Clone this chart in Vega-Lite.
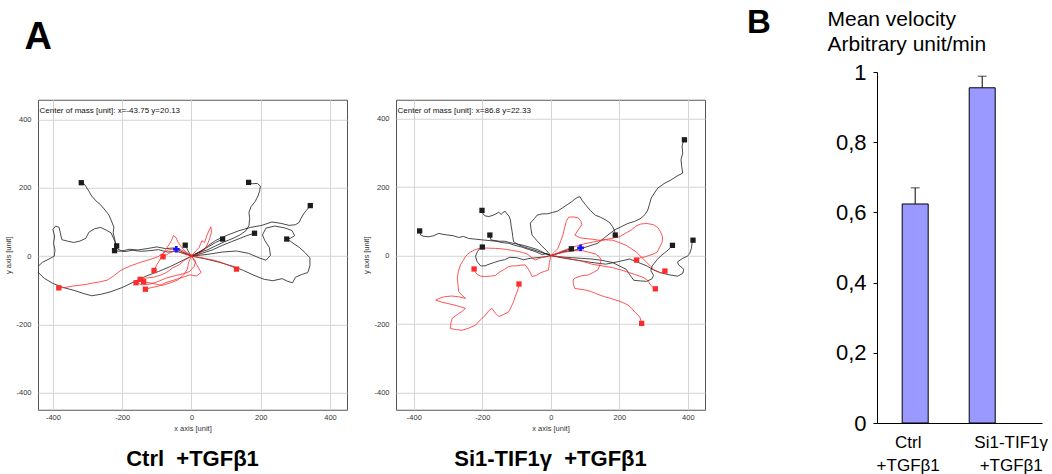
{
"$schema": "https://vega.github.io/schema/vega-lite/v6.json",
"padding": {"left": 4, "top": 7, "right": 0, "bottom": 0},
"background": "white",
"config": {"font": "Liberation Sans", "view": {"stroke": null}, "title": {"font": "Liberation Sans"}, "axis": {"labelFont": "Liberation Sans", "titleFont": "Liberation Sans"}},
"datasets": {
"ctrlTracks": [
{"t":"b1","d":"up","x":0,"y":0},{"t":"b1","d":"up","x":-20,"y":8},{"t":"b1","d":"up","x":-45,"y":14},{"t":"b1","d":"up","x":-70,"y":12},{"t":"b1","d":"up","x":-95,"y":19},{"t":"b1","d":"up","x":-120,"y":16},{"t":"b1","d":"up","x":-145,"y":14},{"t":"b1","d":"up","x":-170,"y":17},{"t":"b1","d":"up","x":-195,"y":13},{"t":"b1","d":"up","x":-212,"y":20},{"t":"b1","d":"up","x":-219,"y":35},{"t":"b1","d":"up","x":-222,"y":52},{"t":"b1","d":"up","x":-226,"y":68},{"t":"b1","d":"up","x":-224,"y":85},{"t":"b1","d":"up","x":-231,"y":103},{"t":"b1","d":"up","x":-238,"y":120},{"t":"b1","d":"up","x":-252,"y":138},{"t":"b1","d":"up","x":-262,"y":150},{"t":"b1","d":"up","x":-276,"y":162},{"t":"b1","d":"up","x":-288,"y":176},{"t":"b1","d":"up","x":-296,"y":190},{"t":"b1","d":"up","x":-304,"y":203},{"t":"b1","d":"up","x":-310,"y":212},{"t":"b1","d":"up","x":-318,"y":215},
{"t":"b2","d":"up","x":0,"y":0},{"t":"b2","d":"up","x":-25,"y":12},{"t":"b2","d":"up","x":-50,"y":24},{"t":"b2","d":"up","x":-75,"y":22},{"t":"b2","d":"up","x":-100,"y":27},{"t":"b2","d":"up","x":-128,"y":22},{"t":"b2","d":"up","x":-155,"y":18},{"t":"b2","d":"up","x":-180,"y":20},{"t":"b2","d":"up","x":-205,"y":14},{"t":"b2","d":"up","x":-222,"y":16},
{"t":"b3","d":"up","x":0,"y":0},{"t":"b3","d":"up","x":-30,"y":-15},{"t":"b3","d":"up","x":-60,"y":-30},{"t":"b3","d":"up","x":-95,"y":-45},{"t":"b3","d":"up","x":-130,"y":-58},{"t":"b3","d":"up","x":-165,"y":-75},{"t":"b3","d":"up","x":-200,"y":-92},{"t":"b3","d":"up","x":-235,"y":-105},{"t":"b3","d":"up","x":-262,"y":-112},{"t":"b3","d":"up","x":-288,"y":-116},{"t":"b3","d":"up","x":-310,"y":-110},{"t":"b3","d":"up","x":-340,"y":-100},{"t":"b3","d":"up","x":-370,"y":-92},{"t":"b3","d":"up","x":-400,"y":-80},{"t":"b3","d":"up","x":-425,"y":-65},{"t":"b3","d":"up","x":-442,"y":-48},{"t":"b3","d":"up","x":-445,"y":-32},{"t":"b3","d":"up","x":-430,"y":-18},{"t":"b3","d":"up","x":-410,"y":-8},{"t":"b3","d":"up","x":-396,"y":0},{"t":"b3","d":"up","x":-394,"y":18},{"t":"b3","d":"up","x":-398,"y":38},{"t":"b3","d":"up","x":-395,"y":58},{"t":"b3","d":"up","x":-400,"y":78},{"t":"b3","d":"up","x":-392,"y":88},{"t":"b3","d":"up","x":-382,"y":84},{"t":"b3","d":"up","x":-378,"y":65},{"t":"b3","d":"up","x":-374,"y":48},{"t":"b3","d":"up","x":-358,"y":44},{"t":"b3","d":"up","x":-340,"y":40},{"t":"b3","d":"up","x":-322,"y":44},{"t":"b3","d":"up","x":-305,"y":52},{"t":"b3","d":"up","x":-296,"y":70},{"t":"b3","d":"up","x":-280,"y":80},{"t":"b3","d":"up","x":-262,"y":84},{"t":"b3","d":"up","x":-246,"y":76},{"t":"b3","d":"up","x":-232,"y":68},{"t":"b3","d":"up","x":-224,"y":50},{"t":"b3","d":"up","x":-216,"y":30},
{"t":"b4","d":"up","x":0,"y":0},{"t":"b4","d":"up","x":20,"y":10},{"t":"b4","d":"up","x":45,"y":18},{"t":"b4","d":"up","x":70,"y":30},{"t":"b4","d":"up","x":95,"y":42},{"t":"b4","d":"up","x":120,"y":52},{"t":"b4","d":"up","x":140,"y":62},{"t":"b4","d":"up","x":158,"y":75},{"t":"b4","d":"up","x":166,"y":90},{"t":"b4","d":"up","x":168,"y":110},{"t":"b4","d":"up","x":166,"y":128},{"t":"b4","d":"up","x":172,"y":145},{"t":"b4","d":"up","x":184,"y":160},{"t":"b4","d":"up","x":192,"y":176},{"t":"b4","d":"up","x":197,"y":192},{"t":"b4","d":"up","x":199,"y":205},{"t":"b4","d":"up","x":190,"y":213},{"t":"b4","d":"up","x":176,"y":212},{"t":"b4","d":"up","x":165,"y":216},
{"t":"b5","d":"up","x":0,"y":0},{"t":"b5","d":"up","x":25,"y":12},{"t":"b5","d":"up","x":50,"y":32},{"t":"b5","d":"up","x":70,"y":46},{"t":"b5","d":"up","x":100,"y":60},{"t":"b5","d":"up","x":136,"y":74},{"t":"b5","d":"up","x":170,"y":84},{"t":"b5","d":"up","x":203,"y":90},{"t":"b5","d":"up","x":232,"y":100},{"t":"b5","d":"up","x":258,"y":96},{"t":"b5","d":"up","x":282,"y":90},{"t":"b5","d":"up","x":300,"y":92},{"t":"b5","d":"up","x":310,"y":98},{"t":"b5","d":"up","x":316,"y":110},{"t":"b5","d":"up","x":324,"y":124},{"t":"b5","d":"up","x":332,"y":134},{"t":"b5","d":"up","x":343,"y":148},
{"t":"b6","d":"up","x":0,"y":0},{"t":"b6","d":"up","x":30,"y":8},{"t":"b6","d":"up","x":60,"y":18},{"t":"b6","d":"up","x":90,"y":32},{"t":"b6","d":"up","x":115,"y":42},{"t":"b6","d":"up","x":140,"y":52},{"t":"b6","d":"up","x":160,"y":60},{"t":"b6","d":"up","x":182,"y":67},
{"t":"b7","d":"up","x":0,"y":0},{"t":"b7","d":"up","x":25,"y":14},{"t":"b7","d":"up","x":50,"y":28},{"t":"b7","d":"up","x":70,"y":40},{"t":"b7","d":"up","x":90,"y":50},
{"t":"b8","d":"up","x":0,"y":0},{"t":"b8","d":"up","x":40,"y":-8},{"t":"b8","d":"up","x":80,"y":-18},{"t":"b8","d":"up","x":120,"y":-30},{"t":"b8","d":"up","x":150,"y":-42},{"t":"b8","d":"up","x":180,"y":-56},{"t":"b8","d":"up","x":210,"y":-68},{"t":"b8","d":"up","x":235,"y":-72},{"t":"b8","d":"up","x":262,"y":-66},{"t":"b8","d":"up","x":278,"y":-74},{"t":"b8","d":"up","x":292,"y":-78},{"t":"b8","d":"up","x":300,"y":-62},{"t":"b8","d":"up","x":318,"y":-54},{"t":"b8","d":"up","x":336,"y":-48},{"t":"b8","d":"up","x":342,"y":-28},{"t":"b8","d":"up","x":342,"y":-5},{"t":"b8","d":"up","x":328,"y":10},{"t":"b8","d":"up","x":312,"y":25},{"t":"b8","d":"up","x":296,"y":36},{"t":"b8","d":"up","x":285,"y":44},{"t":"b8","d":"up","x":275,"y":50},
{"t":"b9","d":"up","x":0,"y":0},{"t":"b9","d":"up","x":45,"y":5},{"t":"b9","d":"up","x":90,"y":12},{"t":"b9","d":"up","x":130,"y":15},{"t":"b9","d":"up","x":165,"y":8},{"t":"b9","d":"up","x":195,"y":-5},{"t":"b9","d":"up","x":215,"y":-12},{"t":"b9","d":"up","x":228,"y":2},{"t":"b9","d":"up","x":225,"y":25},{"t":"b9","d":"up","x":212,"y":45},{"t":"b9","d":"up","x":205,"y":62},{"t":"b9","d":"up","x":215,"y":82},{"t":"b9","d":"up","x":240,"y":88},{"t":"b9","d":"up","x":268,"y":83},{"t":"b9","d":"up","x":290,"y":75},{"t":"b9","d":"up","x":298,"y":60},{"t":"b9","d":"up","x":285,"y":52},{"t":"b9","d":"up","x":275,"y":50},
{"t":"b10","d":"up","x":0,"y":0},{"t":"b10","d":"up","x":-8,"y":12},{"t":"b10","d":"up","x":-18,"y":32},
{"t":"r1","d":"down","x":0,"y":0},{"t":"r1","d":"down","x":-12,"y":8},{"t":"r1","d":"down","x":-25,"y":16},{"t":"r1","d":"down","x":-39,"y":22},{"t":"r1","d":"down","x":-55,"y":20},{"t":"r1","d":"down","x":-68,"y":18},{"t":"r1","d":"down","x":-82,"y":8},{"t":"r1","d":"down","x":-97,"y":-2},{"t":"r1","d":"down","x":-120,"y":-10},{"t":"r1","d":"down","x":-140,"y":-16},{"t":"r1","d":"down","x":-155,"y":-21},{"t":"r1","d":"down","x":-180,"y":-30},{"t":"r1","d":"down","x":-203,"y":-41},{"t":"r1","d":"down","x":-222,"y":-56},{"t":"r1","d":"down","x":-242,"y":-70},{"t":"r1","d":"down","x":-262,"y":-75},{"t":"r1","d":"down","x":-280,"y":-78},{"t":"r1","d":"down","x":-300,"y":-82},{"t":"r1","d":"down","x":-319,"y":-85},{"t":"r1","d":"down","x":-345,"y":-88},{"t":"r1","d":"down","x":-365,"y":-92},{"t":"r1","d":"down","x":-383,"y":-93},
{"t":"r2","d":"down","x":0,"y":0},{"t":"r2","d":"down","x":-15,"y":12},{"t":"r2","d":"down","x":-28,"y":25},{"t":"r2","d":"down","x":-38,"y":40},{"t":"r2","d":"down","x":-45,"y":55},{"t":"r2","d":"down","x":-52,"y":60},{"t":"r2","d":"down","x":-58,"y":45},{"t":"r2","d":"down","x":-66,"y":32},{"t":"r2","d":"down","x":-75,"y":18},{"t":"r2","d":"down","x":-85,"y":2},{"t":"r2","d":"down","x":-92,"y":-12},{"t":"r2","d":"down","x":-100,"y":-25},{"t":"r2","d":"down","x":-108,"y":-42},
{"t":"r3","d":"down","x":0,"y":0},{"t":"r3","d":"down","x":10,"y":12},{"t":"r3","d":"down","x":22,"y":25},{"t":"r3","d":"down","x":30,"y":45},{"t":"r3","d":"down","x":38,"y":40},{"t":"r3","d":"down","x":45,"y":62},{"t":"r3","d":"down","x":52,"y":78},{"t":"r3","d":"down","x":56,"y":86},{"t":"r3","d":"down","x":58,"y":70},{"t":"r3","d":"down","x":52,"y":50},{"t":"r3","d":"down","x":45,"y":32},{"t":"r3","d":"down","x":35,"y":15},{"t":"r3","d":"down","x":20,"y":6},{"t":"r3","d":"down","x":5,"y":3},{"t":"r3","d":"down","x":-15,"y":4},{"t":"r3","d":"down","x":-30,"y":10},{"t":"r3","d":"down","x":-45,"y":16},{"t":"r3","d":"down","x":-62,"y":10},{"t":"r3","d":"down","x":-82,"y":-2},
{"t":"r4","d":"down","x":0,"y":0},{"t":"r4","d":"down","x":12,"y":-15},{"t":"r4","d":"down","x":8,"y":-30},{"t":"r4","d":"down","x":-5,"y":-45},{"t":"r4","d":"down","x":-25,"y":-52},{"t":"r4","d":"down","x":-50,"y":-58},{"t":"r4","d":"down","x":-75,"y":-65},{"t":"r4","d":"down","x":-100,"y":-76},{"t":"r4","d":"down","x":-120,"y":-82},{"t":"r4","d":"down","x":-142,"y":-84},{"t":"r4","d":"down","x":-160,"y":-78},
{"t":"r5","d":"down","x":0,"y":0},{"t":"r5","d":"down","x":-20,"y":-12},{"t":"r5","d":"down","x":-35,"y":-25},{"t":"r5","d":"down","x":-55,"y":-35},{"t":"r5","d":"down","x":-72,"y":-48},{"t":"r5","d":"down","x":-90,"y":-56},{"t":"r5","d":"down","x":-110,"y":-62},{"t":"r5","d":"down","x":-130,"y":-64},{"t":"r5","d":"down","x":-148,"y":-68},
{"t":"r6","d":"down","x":0,"y":0},{"t":"r6","d":"down","x":-8,"y":-18},{"t":"r6","d":"down","x":-12,"y":-38},{"t":"r6","d":"down","x":-22,"y":-55},{"t":"r6","d":"down","x":-40,"y":-70},{"t":"r6","d":"down","x":-60,"y":-78},{"t":"r6","d":"down","x":-85,"y":-86},{"t":"r6","d":"down","x":-112,"y":-80},{"t":"r6","d":"down","x":-138,"y":-75},
{"t":"r7","d":"down","x":0,"y":0},{"t":"r7","d":"down","x":15,"y":-25},{"t":"r7","d":"down","x":28,"y":-48},{"t":"r7","d":"down","x":15,"y":-58},{"t":"r7","d":"down","x":-5,"y":-55},{"t":"r7","d":"down","x":-25,"y":-62},{"t":"r7","d":"down","x":-50,"y":-70},{"t":"r7","d":"down","x":-75,"y":-78},{"t":"r7","d":"down","x":-95,"y":-88},{"t":"r7","d":"down","x":-115,"y":-92},{"t":"r7","d":"down","x":-133,"y":-97},
{"t":"r8","d":"down","x":0,"y":0},{"t":"r8","d":"down","x":20,"y":-3},{"t":"r8","d":"down","x":45,"y":-8},{"t":"r8","d":"down","x":65,"y":-12},{"t":"r8","d":"down","x":85,"y":-18},{"t":"r8","d":"down","x":105,"y":-26},{"t":"r8","d":"down","x":120,"y":-32},{"t":"r8","d":"down","x":130,"y":-38}
],
"ctrlEnds": [
{"d":"up","x":-318,"y":215},{"d":"up","x":-222,"y":16},{"d":"up","x":-216,"y":30},{"d":"up","x":165,"y":216},{"d":"up","x":343,"y":148},{"d":"up","x":182,"y":67},{"d":"up","x":90,"y":50},{"d":"up","x":275,"y":50},{"d":"up","x":-18,"y":32},
{"d":"down","x":-383,"y":-93},{"d":"down","x":-108,"y":-42},{"d":"down","x":-82,"y":-2},{"d":"down","x":-160,"y":-78},{"d":"down","x":-148,"y":-68},{"d":"down","x":-138,"y":-75},{"d":"down","x":-133,"y":-97},{"d":"down","x":130,"y":-38}
],
"ctrlMass": [{"x":-43.75,"y":20.13}],
"siTracks": [
{"t":"k1","d":"up","x":0,"y":0},{"t":"k1","d":"up","x":-12,"y":6},{"t":"k1","d":"up","x":-25,"y":3},{"t":"k1","d":"up","x":-46,"y":12},{"t":"k1","d":"up","x":-65,"y":18},{"t":"k1","d":"up","x":-85,"y":25},{"t":"k1","d":"up","x":-105,"y":30},{"t":"k1","d":"up","x":-123,"y":36},{"t":"k1","d":"up","x":-142,"y":38},{"t":"k1","d":"up","x":-160,"y":42},{"t":"k1","d":"up","x":-180,"y":44},{"t":"k1","d":"up","x":-201,"y":46},{"t":"k1","d":"up","x":-220,"y":48},{"t":"k1","d":"up","x":-240,"y":50},{"t":"k1","d":"up","x":-255,"y":56},{"t":"k1","d":"up","x":-269,"y":53},{"t":"k1","d":"up","x":-285,"y":58},{"t":"k1","d":"up","x":-300,"y":60},{"t":"k1","d":"up","x":-315,"y":62},{"t":"k1","d":"up","x":-327,"y":65},{"t":"k1","d":"up","x":-342,"y":58},{"t":"k1","d":"up","x":-356,"y":55},{"t":"k1","d":"up","x":-370,"y":56},{"t":"k1","d":"up","x":-380,"y":60},{"t":"k1","d":"up","x":-383,"y":72},
{"t":"k2","d":"up","x":0,"y":0},{"t":"k2","d":"up","x":-15,"y":5},{"t":"k2","d":"up","x":-30,"y":10},{"t":"k2","d":"up","x":-48,"y":16},{"t":"k2","d":"up","x":-65,"y":21},{"t":"k2","d":"up","x":-80,"y":26},{"t":"k2","d":"up","x":-95,"y":32},{"t":"k2","d":"up","x":-109,"y":41},{"t":"k2","d":"up","x":-111,"y":55},{"t":"k2","d":"up","x":-113,"y":70},{"t":"k2","d":"up","x":-116,"y":88},{"t":"k2","d":"up","x":-118,"y":104},{"t":"k2","d":"up","x":-122,"y":115},{"t":"k2","d":"up","x":-128,"y":122},{"t":"k2","d":"up","x":-133,"y":129},{"t":"k2","d":"up","x":-140,"y":126},{"t":"k2","d":"up","x":-145,"y":120},{"t":"k2","d":"up","x":-152,"y":127},{"t":"k2","d":"up","x":-160,"y":122},{"t":"k2","d":"up","x":-168,"y":118},{"t":"k2","d":"up","x":-181,"y":114},{"t":"k2","d":"up","x":-192,"y":116},{"t":"k2","d":"up","x":-198,"y":122},{"t":"k2","d":"up","x":-201,"y":132},
{"t":"k3","d":"up","x":0,"y":0},{"t":"k3","d":"up","x":-20,"y":8},{"t":"k3","d":"up","x":-40,"y":18},{"t":"k3","d":"up","x":-60,"y":24},{"t":"k3","d":"up","x":-80,"y":30},{"t":"k3","d":"up","x":-100,"y":34},{"t":"k3","d":"up","x":-120,"y":38},{"t":"k3","d":"up","x":-135,"y":42},{"t":"k3","d":"up","x":-150,"y":42},{"t":"k3","d":"up","x":-165,"y":44},{"t":"k3","d":"up","x":-175,"y":46},{"t":"k3","d":"up","x":-178,"y":60},
{"t":"k4","d":"up","x":0,"y":0},{"t":"k4","d":"up","x":-20,"y":-4},{"t":"k4","d":"up","x":-40,"y":-6},{"t":"k4","d":"up","x":-60,"y":-8},{"t":"k4","d":"up","x":-80,"y":-12},{"t":"k4","d":"up","x":-100,"y":-6},{"t":"k4","d":"up","x":-120,"y":-5},{"t":"k4","d":"up","x":-135,"y":-12},{"t":"k4","d":"up","x":-150,"y":-15},{"t":"k4","d":"up","x":-165,"y":-20},{"t":"k4","d":"up","x":-180,"y":-25},{"t":"k4","d":"up","x":-192,"y":-30},{"t":"k4","d":"up","x":-205,"y":-30},{"t":"k4","d":"up","x":-215,"y":-18},{"t":"k4","d":"up","x":-220,"y":-2},{"t":"k4","d":"up","x":-214,"y":12},{"t":"k4","d":"up","x":-208,"y":20},{"t":"k4","d":"up","x":-200,"y":25},
{"t":"k5","d":"up","x":0,"y":0},{"t":"k5","d":"up","x":20,"y":6},{"t":"k5","d":"up","x":40,"y":14},{"t":"k5","d":"up","x":60,"y":20},
{"t":"k6","d":"up","x":0,"y":0},{"t":"k6","d":"up","x":-12,"y":14},{"t":"k6","d":"up","x":-28,"y":30},{"t":"k6","d":"up","x":-42,"y":45},{"t":"k6","d":"up","x":-55,"y":60},{"t":"k6","d":"up","x":-58,"y":78},{"t":"k6","d":"up","x":-60,"y":95},{"t":"k6","d":"up","x":-48,"y":108},{"t":"k6","d":"up","x":-40,"y":118},{"t":"k6","d":"up","x":-25,"y":122},{"t":"k6","d":"up","x":-10,"y":122},{"t":"k6","d":"up","x":5,"y":126},{"t":"k6","d":"up","x":20,"y":130},{"t":"k6","d":"up","x":35,"y":140},{"t":"k6","d":"up","x":50,"y":150},{"t":"k6","d":"up","x":62,"y":158},{"t":"k6","d":"up","x":70,"y":165},{"t":"k6","d":"up","x":78,"y":170},{"t":"k6","d":"up","x":85,"y":172},{"t":"k6","d":"up","x":92,"y":160},{"t":"k6","d":"up","x":100,"y":150},{"t":"k6","d":"up","x":115,"y":132},{"t":"k6","d":"up","x":130,"y":118},{"t":"k6","d":"up","x":145,"y":112},{"t":"k6","d":"up","x":160,"y":104},{"t":"k6","d":"up","x":172,"y":96},{"t":"k6","d":"up","x":180,"y":85},{"t":"k6","d":"up","x":186,"y":72},{"t":"k6","d":"up","x":188,"y":60},
{"t":"k7","d":"up","x":0,"y":0},{"t":"k7","d":"up","x":20,"y":6},{"t":"k7","d":"up","x":41,"y":12},{"t":"k7","d":"up","x":65,"y":15},{"t":"k7","d":"up","x":89,"y":21},{"t":"k7","d":"up","x":112,"y":28},{"t":"k7","d":"up","x":137,"y":36},{"t":"k7","d":"up","x":160,"y":55},{"t":"k7","d":"up","x":186,"y":75},{"t":"k7","d":"up","x":205,"y":84},{"t":"k7","d":"up","x":225,"y":94},{"t":"k7","d":"up","x":245,"y":100},{"t":"k7","d":"up","x":263,"y":109},{"t":"k7","d":"up","x":275,"y":120},{"t":"k7","d":"up","x":283,"y":133},{"t":"k7","d":"up","x":288,"y":150},{"t":"k7","d":"up","x":293,"y":168},{"t":"k7","d":"up","x":302,"y":182},{"t":"k7","d":"up","x":312,"y":197},{"t":"k7","d":"up","x":330,"y":210},{"t":"k7","d":"up","x":351,"y":221},{"t":"k7","d":"up","x":368,"y":232},{"t":"k7","d":"up","x":385,"y":241},{"t":"k7","d":"up","x":382,"y":260},{"t":"k7","d":"up","x":380,"y":280},{"t":"k7","d":"up","x":385,"y":299},{"t":"k7","d":"up","x":383,"y":320},{"t":"k7","d":"up","x":386,"y":330},{"t":"k7","d":"up","x":390,"y":338},
{"t":"k8","d":"up","x":0,"y":0},{"t":"k8","d":"up","x":30,"y":-4},{"t":"k8","d":"up","x":60,"y":-6},{"t":"k8","d":"up","x":90,"y":-8},{"t":"k8","d":"up","x":120,"y":-10},{"t":"k8","d":"up","x":150,"y":-14},{"t":"k8","d":"up","x":180,"y":-20},{"t":"k8","d":"up","x":200,"y":-30},{"t":"k8","d":"up","x":220,"y":-40},{"t":"k8","d":"up","x":232,"y":-58},{"t":"k8","d":"up","x":242,"y":-72},{"t":"k8","d":"up","x":262,"y":-74},{"t":"k8","d":"up","x":280,"y":-75},{"t":"k8","d":"up","x":295,"y":-68},{"t":"k8","d":"up","x":300,"y":-58},{"t":"k8","d":"up","x":292,"y":-44},{"t":"k8","d":"up","x":296,"y":-30},{"t":"k8","d":"up","x":310,"y":-12},{"t":"k8","d":"up","x":322,"y":0},{"t":"k8","d":"up","x":332,"y":8},{"t":"k8","d":"up","x":342,"y":16},{"t":"k8","d":"up","x":350,"y":24},{"t":"k8","d":"up","x":355,"y":30},
{"t":"k9","d":"up","x":0,"y":0},{"t":"k9","d":"up","x":40,"y":-8},{"t":"k9","d":"up","x":80,"y":-14},{"t":"k9","d":"up","x":120,"y":-20},{"t":"k9","d":"up","x":160,"y":-25},{"t":"k9","d":"up","x":195,"y":-18},{"t":"k9","d":"up","x":230,"y":-10},{"t":"k9","d":"up","x":255,"y":-20},{"t":"k9","d":"up","x":280,"y":-30},{"t":"k9","d":"up","x":300,"y":-42},{"t":"k9","d":"up","x":320,"y":-50},{"t":"k9","d":"up","x":345,"y":-56},{"t":"k9","d":"up","x":370,"y":-60},{"t":"k9","d":"up","x":385,"y":-52},{"t":"k9","d":"up","x":388,"y":-40},{"t":"k9","d":"up","x":372,"y":-26},{"t":"k9","d":"up","x":370,"y":-18},{"t":"k9","d":"up","x":385,"y":-8},{"t":"k9","d":"up","x":398,"y":-2},{"t":"k9","d":"up","x":405,"y":5},{"t":"k9","d":"up","x":410,"y":20},{"t":"k9","d":"up","x":412,"y":35},{"t":"k9","d":"up","x":415,"y":45},
{"t":"q1","d":"down","x":0,"y":0},{"t":"q1","d":"down","x":-4,"y":-20},{"t":"q1","d":"down","x":-7,"y":-42},{"t":"q1","d":"down","x":-18,"y":-46},{"t":"q1","d":"down","x":-30,"y":-50},{"t":"q1","d":"down","x":-42,"y":-58},{"t":"q1","d":"down","x":-55,"y":-61},{"t":"q1","d":"down","x":-62,"y":-45},{"t":"q1","d":"down","x":-75,"y":-27},{"t":"q1","d":"down","x":-88,"y":-28},{"t":"q1","d":"down","x":-100,"y":-30},{"t":"q1","d":"down","x":-112,"y":-30},{"t":"q1","d":"down","x":-123,"y":-32},{"t":"q1","d":"down","x":-135,"y":-40},{"t":"q1","d":"down","x":-145,"y":-45},{"t":"q1","d":"down","x":-155,"y":-52},{"t":"q1","d":"down","x":-162,"y":-58},{"t":"q1","d":"down","x":-176,"y":-60},{"t":"q1","d":"down","x":-191,"y":-61},{"t":"q1","d":"down","x":-205,"y":-60},{"t":"q1","d":"down","x":-215,"y":-55},{"t":"q1","d":"down","x":-220,"y":-48},{"t":"q1","d":"down","x":-224,"y":-39},
{"t":"q2","d":"down","x":0,"y":0},{"t":"q2","d":"down","x":-12,"y":-3},{"t":"q2","d":"down","x":-25,"y":-5},{"t":"q2","d":"down","x":-36,"y":-9},{"t":"q2","d":"down","x":-46,"y":-13},{"t":"q2","d":"down","x":-58,"y":-4},{"t":"q2","d":"down","x":-70,"y":5},{"t":"q2","d":"down","x":-82,"y":9},{"t":"q2","d":"down","x":-94,"y":12},{"t":"q2","d":"down","x":-112,"y":15},{"t":"q2","d":"down","x":-130,"y":18},{"t":"q2","d":"down","x":-146,"y":20},{"t":"q2","d":"down","x":-162,"y":21},{"t":"q2","d":"down","x":-186,"y":22},{"t":"q2","d":"down","x":-210,"y":21},{"t":"q2","d":"down","x":-224,"y":16},{"t":"q2","d":"down","x":-235,"y":10},{"t":"q2","d":"down","x":-243,"y":4},{"t":"q2","d":"down","x":-249,"y":-3},{"t":"q2","d":"down","x":-256,"y":-14},{"t":"q2","d":"down","x":-264,"y":-27},{"t":"q2","d":"down","x":-270,"y":-46},{"t":"q2","d":"down","x":-273,"y":-66},{"t":"q2","d":"down","x":-271,"y":-86},{"t":"q2","d":"down","x":-269,"y":-105},{"t":"q2","d":"down","x":-260,"y":-115},{"t":"q2","d":"down","x":-249,"y":-125},{"t":"q2","d":"down","x":-270,"y":-120},{"t":"q2","d":"down","x":-290,"y":-118},{"t":"q2","d":"down","x":-310,"y":-120},{"t":"q2","d":"down","x":-327,"y":-125},{"t":"q2","d":"down","x":-336,"y":-130},{"t":"q2","d":"down","x":-318,"y":-136},{"t":"q2","d":"down","x":-300,"y":-140},{"t":"q2","d":"down","x":-275,"y":-146},{"t":"q2","d":"down","x":-249,"y":-154},{"t":"q2","d":"down","x":-258,"y":-162},{"t":"q2","d":"down","x":-270,"y":-170},{"t":"q2","d":"down","x":-288,"y":-183},{"t":"q2","d":"down","x":-292,"y":-198},{"t":"q2","d":"down","x":-293,"y":-213},{"t":"q2","d":"down","x":-276,"y":-216},{"t":"q2","d":"down","x":-259,"y":-218},{"t":"q2","d":"down","x":-240,"y":-212},{"t":"q2","d":"down","x":-220,"y":-203},{"t":"q2","d":"down","x":-206,"y":-188},{"t":"q2","d":"down","x":-191,"y":-174},{"t":"q2","d":"down","x":-182,"y":-162},{"t":"q2","d":"down","x":-172,"y":-154},{"t":"q2","d":"down","x":-162,"y":-168},{"t":"q2","d":"down","x":-152,"y":-178},{"t":"q2","d":"down","x":-138,"y":-172},{"t":"q2","d":"down","x":-123,"y":-164},{"t":"q2","d":"down","x":-116,"y":-150},{"t":"q2","d":"down","x":-109,"y":-135},{"t":"q2","d":"down","x":-104,"y":-120},{"t":"q2","d":"down","x":-100,"y":-110},{"t":"q2","d":"down","x":-95,"y":-95},{"t":"q2","d":"down","x":-93,"y":-83},
{"t":"q3","d":"down","x":0,"y":0},{"t":"q3","d":"down","x":20,"y":6},{"t":"q3","d":"down","x":40,"y":10},{"t":"q3","d":"down","x":65,"y":14},{"t":"q3","d":"down","x":90,"y":15},{"t":"q3","d":"down","x":110,"y":10},{"t":"q3","d":"down","x":130,"y":5},{"t":"q3","d":"down","x":142,"y":-4},{"t":"q3","d":"down","x":147,"y":-13},{"t":"q3","d":"down","x":143,"y":-28},{"t":"q3","d":"down","x":137,"y":-42},{"t":"q3","d":"down","x":122,"y":-50},{"t":"q3","d":"down","x":108,"y":-57},{"t":"q3","d":"down","x":94,"y":-58},{"t":"q3","d":"down","x":80,"y":-62},{"t":"q3","d":"down","x":70,"y":-66},{"t":"q3","d":"down","x":65,"y":-71},{"t":"q3","d":"down","x":66,"y":-84},{"t":"q3","d":"down","x":70,"y":-96},{"t":"q3","d":"down","x":85,"y":-98},{"t":"q3","d":"down","x":99,"y":-100},{"t":"q3","d":"down","x":115,"y":-104},{"t":"q3","d":"down","x":130,"y":-110},{"t":"q3","d":"down","x":145,"y":-116},{"t":"q3","d":"down","x":157,"y":-120},{"t":"q3","d":"down","x":175,"y":-125},{"t":"q3","d":"down","x":190,"y":-130},{"t":"q3","d":"down","x":208,"y":-136},{"t":"q3","d":"down","x":225,"y":-144},{"t":"q3","d":"down","x":236,"y":-154},{"t":"q3","d":"down","x":245,"y":-165},{"t":"q3","d":"down","x":253,"y":-172},{"t":"q3","d":"down","x":260,"y":-180},{"t":"q3","d":"down","x":263,"y":-190},{"t":"q3","d":"down","x":265,"y":-198},
{"t":"q4","d":"down","x":0,"y":0},{"t":"q4","d":"down","x":25,"y":10},{"t":"q4","d":"down","x":50,"y":20},{"t":"q4","d":"down","x":75,"y":28},{"t":"q4","d":"down","x":100,"y":35},{"t":"q4","d":"down","x":125,"y":40},{"t":"q4","d":"down","x":150,"y":45},{"t":"q4","d":"down","x":175,"y":50},{"t":"q4","d":"down","x":200,"y":55},{"t":"q4","d":"down","x":218,"y":65},{"t":"q4","d":"down","x":235,"y":75},{"t":"q4","d":"down","x":248,"y":86},{"t":"q4","d":"down","x":262,"y":92},{"t":"q4","d":"down","x":280,"y":94},{"t":"q4","d":"down","x":300,"y":90},{"t":"q4","d":"down","x":312,"y":82},{"t":"q4","d":"down","x":320,"y":70},{"t":"q4","d":"down","x":326,"y":55},{"t":"q4","d":"down","x":325,"y":40},{"t":"q4","d":"down","x":318,"y":25},{"t":"q4","d":"down","x":310,"y":10},{"t":"q4","d":"down","x":298,"y":4},{"t":"q4","d":"down","x":285,"y":0},{"t":"q4","d":"down","x":275,"y":-4},{"t":"q4","d":"down","x":265,"y":-5},{"t":"q4","d":"down","x":258,"y":-8},{"t":"q4","d":"down","x":250,"y":-13},
{"t":"q5","d":"down","x":0,"y":0},{"t":"q5","d":"down","x":10,"y":10},{"t":"q5","d":"down","x":20,"y":20},{"t":"q5","d":"down","x":28,"y":40},{"t":"q5","d":"down","x":35,"y":60},{"t":"q5","d":"down","x":40,"y":80},{"t":"q5","d":"down","x":45,"y":100},{"t":"q5","d":"down","x":52,"y":112},{"t":"q5","d":"down","x":65,"y":113},{"t":"q5","d":"down","x":80,"y":110},{"t":"q5","d":"down","x":88,"y":100},{"t":"q5","d":"down","x":90,"y":90},{"t":"q5","d":"down","x":80,"y":75},{"t":"q5","d":"down","x":70,"y":60},{"t":"q5","d":"down","x":85,"y":52},{"t":"q5","d":"down","x":100,"y":50},{"t":"q5","d":"down","x":120,"y":48},{"t":"q5","d":"down","x":140,"y":45},{"t":"q5","d":"down","x":160,"y":46},{"t":"q5","d":"down","x":180,"y":45},{"t":"q5","d":"down","x":200,"y":38},{"t":"q5","d":"down","x":220,"y":30},{"t":"q5","d":"down","x":235,"y":20},{"t":"q5","d":"down","x":250,"y":10},{"t":"q5","d":"down","x":265,"y":-5},{"t":"q5","d":"down","x":280,"y":-20},{"t":"q5","d":"down","x":292,"y":-32},{"t":"q5","d":"down","x":300,"y":-40},{"t":"q5","d":"down","x":310,"y":-46},{"t":"q5","d":"down","x":320,"y":-50},{"t":"q5","d":"down","x":333,"y":-45},
{"t":"q6","d":"down","x":0,"y":0},{"t":"q6","d":"down","x":30,"y":-4},{"t":"q6","d":"down","x":60,"y":-10},{"t":"q6","d":"down","x":90,"y":-16},{"t":"q6","d":"down","x":120,"y":-25},{"t":"q6","d":"down","x":150,"y":-30},{"t":"q6","d":"down","x":180,"y":-35},{"t":"q6","d":"down","x":205,"y":-42},{"t":"q6","d":"down","x":230,"y":-50},{"t":"q6","d":"down","x":245,"y":-55},{"t":"q6","d":"down","x":260,"y":-60},{"t":"q6","d":"down","x":272,"y":-65},{"t":"q6","d":"down","x":280,"y":-70},{"t":"q6","d":"down","x":286,"y":-78},{"t":"q6","d":"down","x":290,"y":-85},{"t":"q6","d":"down","x":298,"y":-92},{"t":"q6","d":"down","x":305,"y":-97}
],
"siEnds": [
{"d":"up","x":-383,"y":72},{"d":"up","x":-201,"y":132},{"d":"up","x":-178,"y":60},{"d":"up","x":-200,"y":25},{"d":"up","x":60,"y":20},{"d":"up","x":188,"y":60},{"d":"up","x":390,"y":338},{"d":"up","x":355,"y":30},{"d":"up","x":415,"y":45},
{"d":"down","x":-224,"y":-39},{"d":"down","x":-93,"y":-83},{"d":"down","x":265,"y":-198},{"d":"down","x":250,"y":-13},{"d":"down","x":333,"y":-45},{"d":"down","x":305,"y":-97}
],
"siMass": [{"x":86.8,"y":22.33}],
"bars": [
{"g":"Ctrl","v":0.624,"hi":0.67},
{"g":"Si1-TIF1γ","v":0.955,"hi":0.988}
]
},
"center": true,
"spacing": 41,
"hconcat": [
{
"title": {"text": "A", "anchor": "start", "fontSize": 38, "fontWeight": "bold", "color": "black", "offset": 42, "dx": 20},
"bounds": "flush",
"spacing": 49,
"hconcat": [
{
"width": 309, "height": 310,
"view": {"stroke": "#555555", "strokeWidth": 1},
"title": {"text": "Ctrl\u00a0\u00a0+TGFβ1", "orient": "bottom", "anchor": "middle", "frame": "group", "fontSize": 22, "fontWeight": "bold", "color": "black", "offset": 17},
"resolve": {"axis": {"x": "independent"}},
"layer": [
{"mark": {"type": "rule", "color": "#3a3a3a", "strokeWidth": 1}, "encoding": {"x": {"datum": 0, "type": "quantitative", "scale": {"domain": [-443, 449], "nice": false, "zero": false}, "axis": null}}},
{"mark": {"type": "rule", "color": "#3a3a3a", "strokeWidth": 1}, "encoding": {"y": {"datum": 0, "type": "quantitative", "scale": {"domain": [-450, 458], "nice": false, "zero": false}}}},
{"data": {"name": "ctrlTracks"}, "mark": {"type": "line", "strokeWidth": 0.8, "clip": true},
 "encoding": {
  "x": {"field": "x", "type": "quantitative", "scale": {"domain": [-443, 449], "nice": false, "zero": false},
        "axis": {"orient": "bottom", "title": "x axis [unit]", "values": [-400, -200, 0, 200, 400], "labelExpr": "(datum.value < 0 ? '-' : '') + abs(datum.value)", "grid": true, "gridColor": "#d4d4d4", "ticks": false, "domain": false, "labelFontSize": 7.5, "labelColor": "#333333", "labelPadding": 4, "labelFlush": false, "titleFontSize": 7.5, "titleFontWeight": "normal", "titleColor": "#333333", "titlePadding": 3}},
  "y": {"field": "y", "type": "quantitative", "scale": {"domain": [-450, 458], "nice": false, "zero": false},
        "axis": {"title": "y axis  [unit]", "values": [-400, -300, -200, -100, 0, 100, 200, 300, 400], "labelExpr": "(datum.value < 0 ? '-' : '') + abs(datum.value)", "grid": true, "gridColor": "#d4d4d4", "ticks": false, "domain": false, "labelFontSize": 7.5, "labelColor": "#333333", "labelPadding": 7, "labelFlush": false, "titleFontSize": 7.5, "titleFontWeight": "normal", "titleColor": "#333333", "titlePadding": 3}},
  "color": {"field": "d", "type": "nominal", "scale": {"domain": ["up", "down"], "range": ["#1c1c1c", "#ff2a2a"]}, "legend": null},
  "detail": {"field": "t", "type": "nominal"},
  "order": {"value": null}
 }},
{"data": {"name": "ctrlEnds"}, "mark": {"type": "point", "shape": "square", "filled": true, "size": 28, "opacity": 1},
 "encoding": {
  "x": {"field": "x", "type": "quantitative", "scale": {"domain": [-443, 449], "nice": false, "zero": false},
        "axis": {"orient": "top", "title": "Center of mass [unit]: x=-43.75 y=20.13", "labels": false, "ticks": false, "domain": false, "grid": false, "titleAnchor": "start", "titleAlign": "left", "titleBaseline": "alphabetic", "titleX": 1, "titleY": 13, "titleFontSize": 8, "titleFontWeight": "normal", "titleColor": "#111111"}},
  "y": {"field": "y", "type": "quantitative", "scale": {"domain": [-450, 458], "nice": false, "zero": false}},
  "color": {"field": "d", "type": "nominal", "legend": null}
 }},
{"data": {"name": "ctrlMass"}, "mark": {"type": "point", "shape": "cross", "filled": true, "size": 45, "color": "#1515ff", "opacity": 1},
 "encoding": {
  "x": {"field": "x", "type": "quantitative", "axis": null},
  "y": {"field": "y", "type": "quantitative"}
 }}
]
},
{
"width": 309, "height": 310,
"view": {"stroke": "#555555", "strokeWidth": 1},
"title": {"text": "Si1-TIF1γ\u00a0\u00a0+TGFβ1", "orient": "bottom", "anchor": "middle", "frame": "group", "fontSize": 22, "fontWeight": "bold", "color": "black", "offset": 17},
"resolve": {"axis": {"x": "independent"}},
"layer": [
{"mark": {"type": "rule", "color": "#3a3a3a", "strokeWidth": 1}, "encoding": {"x": {"datum": 0, "type": "quantitative", "scale": {"domain": [-452, 450], "nice": false, "zero": false}, "axis": null}}},
{"mark": {"type": "rule", "color": "#3a3a3a", "strokeWidth": 1}, "encoding": {"y": {"datum": 0, "type": "quantitative", "scale": {"domain": [-450, 455], "nice": false, "zero": false}}}},
{"data": {"name": "siTracks"}, "mark": {"type": "line", "strokeWidth": 0.8, "clip": true},
 "encoding": {
  "x": {"field": "x", "type": "quantitative", "scale": {"domain": [-452, 450], "nice": false, "zero": false},
        "axis": {"orient": "bottom", "title": "x axis [unit]", "values": [-400, -200, 0, 200, 400], "labelExpr": "(datum.value < 0 ? '-' : '') + abs(datum.value)", "grid": true, "gridColor": "#d4d4d4", "ticks": false, "domain": false, "labelFontSize": 7.5, "labelColor": "#333333", "labelPadding": 4, "labelFlush": false, "titleFontSize": 7.5, "titleFontWeight": "normal", "titleColor": "#333333", "titlePadding": 3}},
  "y": {"field": "y", "type": "quantitative", "scale": {"domain": [-450, 455], "nice": false, "zero": false},
        "axis": {"title": "y axis  [unit]", "values": [-400, -300, -200, -100, 0, 100, 200, 300, 400], "labelExpr": "(datum.value < 0 ? '-' : '') + abs(datum.value)", "grid": true, "gridColor": "#d4d4d4", "ticks": false, "domain": false, "labelFontSize": 7.5, "labelColor": "#333333", "labelPadding": 7, "labelFlush": false, "titleFontSize": 7.5, "titleFontWeight": "normal", "titleColor": "#333333", "titlePadding": 3}},
  "color": {"field": "d", "type": "nominal", "scale": {"domain": ["up", "down"], "range": ["#1c1c1c", "#ff2a2a"]}, "legend": null},
  "detail": {"field": "t", "type": "nominal"},
  "order": {"value": null}
 }},
{"data": {"name": "siEnds"}, "mark": {"type": "point", "shape": "square", "filled": true, "size": 28, "opacity": 1},
 "encoding": {
  "x": {"field": "x", "type": "quantitative", "scale": {"domain": [-452, 450], "nice": false, "zero": false},
        "axis": {"orient": "top", "title": "Center of mass [unit]: x=86.8 y=22.33", "labels": false, "ticks": false, "domain": false, "grid": false, "titleAnchor": "start", "titleAlign": "left", "titleBaseline": "alphabetic", "titleX": 1, "titleY": 13, "titleFontSize": 8, "titleFontWeight": "normal", "titleColor": "#111111"}},
  "y": {"field": "y", "type": "quantitative", "scale": {"domain": [-450, 455], "nice": false, "zero": false}},
  "color": {"field": "d", "type": "nominal", "legend": null}
 }},
{"data": {"name": "siMass"}, "mark": {"type": "point", "shape": "cross", "filled": true, "size": 45, "color": "#1515ff", "opacity": 1},
 "encoding": {
  "x": {"field": "x", "type": "quantitative", "axis": null},
  "y": {"field": "y", "type": "quantitative"}
 }}
]
}
]
},
{
"width": 165, "height": 351,
"view": {"stroke": null},
"title": {"text": "B", "anchor": "start", "fontSize": 33, "fontWeight": "bold", "color": "black", "offset": -32, "dx": -80},
"data": {"name": "bars"},
"layer": [
{"mark": {"type": "bar", "fill": "#9999ff", "stroke": "black", "strokeWidth": 1},
 "encoding": {
  "x": {"field": "g", "type": "nominal", "sort": null, "scale": {"paddingInner": 0.612, "paddingOuter": 0.537, "align": 0.35},
        "axis": {"title": " ", "titleFontSize": 10, "titlePadding": 15, "labelExpr": "datum.value == 'Ctrl' ? ['Ctrl', '+TGFβ1'] : ['Si1-TIF1γ', '+TGFβ1']", "labelAngle": 0, "labelFontSize": 17, "labelColor": "black", "labelLineHeight": 23, "labelPadding": 11, "labelOffset": {"condition": {"test": "datum.value == 'Ctrl'", "value": -7}, "value": 29}, "domainColor": "black", "ticks": false, "grid": false}},
  "y": {"field": "v", "type": "quantitative", "scale": {"domain": [0, 1], "nice": false, "zero": true},
        "axis": {"title": ["Mean velocity", "Arbitrary unit/min"], "titleAngle": 0, "titleAlign": "left", "titleBaseline": "alphabetic", "titleX": -50, "titleY": -47, "titleFontSize": 21, "titleFontWeight": "normal", "titleColor": "black", "titleLineHeight": 25, "values": [0, 0.2, 0.4, 0.6, 0.8, 1], "labelExpr": "replace(format(datum.value, '~g'), '.', ',')", "labelFontSize": 22, "labelColor": "black", "labelPadding": 7, "tickSize": 4, "tickColor": "black", "domainColor": "black", "grid": false}}
 }},
{"mark": {"type": "rule", "color": "black", "strokeWidth": 1},
 "encoding": {
  "x": {"field": "g", "type": "nominal", "sort": null, "title": " "},
  "y": {"field": "v", "type": "quantitative"},
  "y2": {"field": "hi"}
 }},
{"mark": {"type": "tick", "color": "black", "thickness": 1, "size": 9},
 "encoding": {
  "x": {"field": "g", "type": "nominal", "sort": null, "title": " "},
  "y": {"field": "hi", "type": "quantitative"}
 }}
]
}
]
}
